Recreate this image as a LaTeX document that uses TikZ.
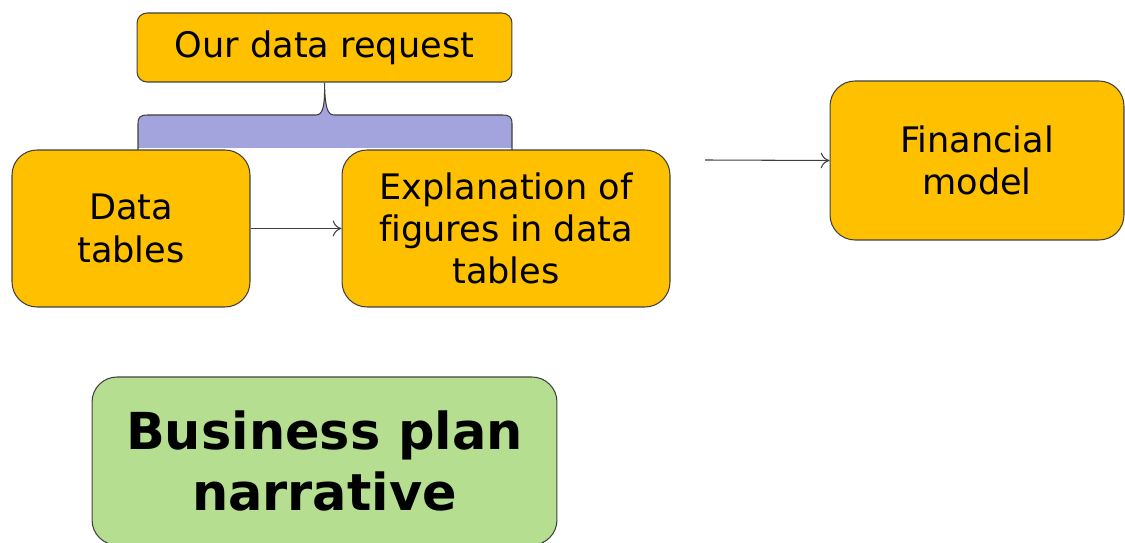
\documentclass[tikz,border=0pt]{standalone}
\usepackage{fontspec}
\setmainfont[Ligatures=NoCommon]{DejaVu Sans}
\usetikzlibrary{arrows.meta}
\definecolor{arancio}{HTML}{FFC000}
\definecolor{verde}{HTML}{B6DE90}
\definecolor{lilla}{HTML}{A3A3DE}
\definecolor{bordo}{HTML}{404040}
\begin{document}
\begin{tikzpicture}[x=0.02cm,y=-0.02cm,
    box/.style={draw=bordo, line width=0.6pt, fill=arancio, rounded corners=0.5cm,
      align=center, inner sep=0pt, font=\fontsize{20}{24}\selectfont},
    freccia/.style={draw=bordo, line width=0.6pt, -{To[length=5pt,width=9pt]}}]
        \useasboundingbox (0,0) rectangle (1125,543);
        \node[box, rounded corners=0.2cm, minimum width=7.5cm, minimum height=1.38cm] (richiesta) at (324.5,47.5) {Our data request};
        % Graffa
        \fill[lilla] (138,148) -- (138,124) .. controls (138,117) and (140,115) .. (148,115) -- (316,115)
            .. controls (323,115) and (325,106) .. (richiesta.south)
            .. controls (325,106) and (327,115) .. (334,115) -- (502,115)
            .. controls (510,115) and (512,117) .. (512,124) -- (512,148) -- cycle;
        \draw[bordo, line width=0.6pt] (138,150) -- (138,124) .. controls (138,117) and (140,115) .. (148,115) -- (316,115)
            .. controls (323,115) and (325,106) .. (richiesta.south)
            .. controls (325,106) and (327,115) .. (334,115) -- (502,115)
            .. controls (510,115) and (512,117) .. (512,124) -- (512,150);
        \node[box, minimum width=4.76cm, minimum height=3.14cm] (dati) at (131,228.5) {Data\\tables};
        \node[box, minimum width=6.56cm, minimum height=3.14cm] (spiegazione) at (506,228.5) {Explanation of\\figures in data\\tables};
        \node[box, minimum width=5.88cm, minimum height=3.18cm] (modello) at (977,160.5) {Financial\\model};
        \node[box, fill=verde, minimum width=9.3cm, minimum height=3.36cm,
            font=\bfseries\fontsize{29}{35}\selectfont] (narrativa) at (324.5,461) {Business plan\\narrative};
        % Frecce
        \coordinate (inizio) at (705,160);
        \draw[freccia] (dati) -- (spiegazione);
        \draw[freccia] (inizio) -- (modello.west);
\end{tikzpicture}
\end{document}
